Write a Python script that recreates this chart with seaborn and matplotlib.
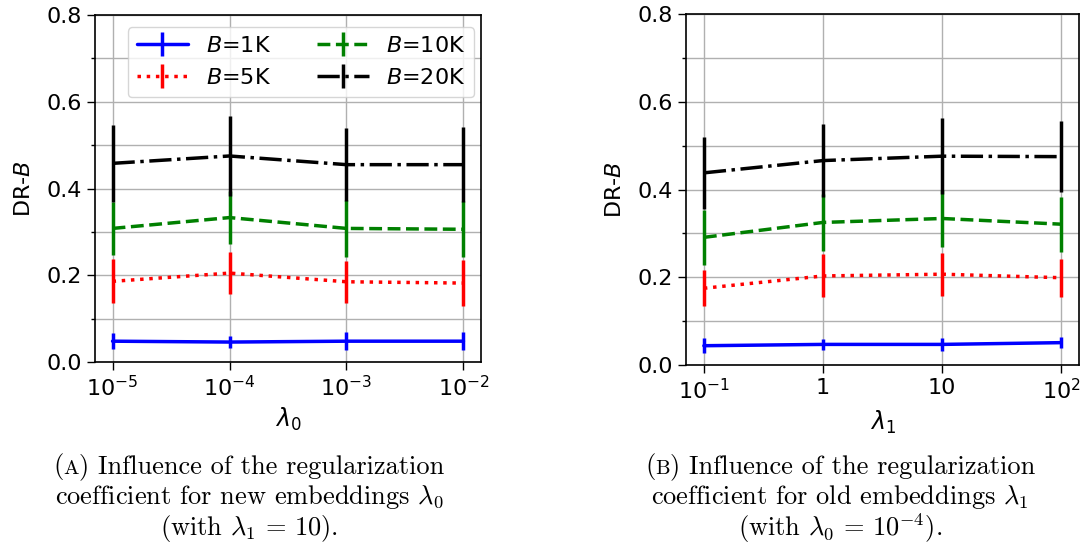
import numpy as np
import pandas as pd
import matplotlib
matplotlib.use("Agg")
import matplotlib.pyplot as plt
from matplotlib.lines import Line2D
from matplotlib.legend_handler import HandlerTuple
from matplotlib.ticker import MultipleLocator
from matplotlib.offsetbox import TextArea, HPacker, AnnotationBbox
import seaborn as sns

# ---- data -------------------------------------------------------------
batch_labels = ["$B$=1K", "$B$=5K", "$B$=10K", "$B$=20K"]

lambda0_ticks = [r"$10^{-5}$", r"$10^{-4}$", r"$10^{-3}$", r"$10^{-2}$"]
lambda1_ticks = [r"$10^{-1}$", "1", "10", r"$10^{2}$"]

# DR-B as a function of lambda_0 (lambda_1 = 10)
dr_l0_1k = [0.048, 0.046, 0.048, 0.048]
dr_l0_5k = [0.186, 0.205, 0.185, 0.182]
dr_l0_10k = [0.308, 0.333, 0.308, 0.306]
dr_l0_20k = [0.458, 0.475, 0.455, 0.455]
sd_l0_1k = [0.019, 0.014, 0.021, 0.021]
sd_l0_5k = [0.051, 0.048, 0.049, 0.053]
sd_l0_10k = [0.062, 0.061, 0.065, 0.065]
sd_l0_20k = [0.089, 0.093, 0.084, 0.086]

# DR-B as a function of lambda_1 (lambda_0 = 1e-4)
dr_l1_1k = [0.044, 0.047, 0.047, 0.051]
dr_l1_5k = [0.175, 0.203, 0.207, 0.199]
dr_l1_10k = [0.291, 0.325, 0.334, 0.321]
dr_l1_20k = [0.438, 0.466, 0.476, 0.475]
sd_l1_1k = [0.017, 0.013, 0.014, 0.013]
sd_l1_5k = [0.041, 0.049, 0.049, 0.043]
sd_l1_10k = [0.063, 0.065, 0.064, 0.063]
sd_l1_20k = [0.082, 0.084, 0.087, 0.081]

# ---- style ------------------------------------------------------------
sns.set_style("ticks")
plt.rcParams["font.family"] = ["DejaVu Sans"]
plt.rcParams["mathtext.fontset"] = "dejavusans"
for key in ["text.color", "axes.labelcolor", "xtick.color", "ytick.color",
            "xtick.labelcolor", "ytick.labelcolor"]:
    plt.rcParams[key] = "black"

colors = ["blue", "red", "green", "black"]
styles = ["-", ":", "--", "-."]
LW = 2.5
FS = 16

fig = plt.figure(figsize=(10.86, 5.48), dpi=100)
ax_a = fig.add_axes([0.0875, 0.3394, 0.3554, 0.6332])
ax_b = fig.add_axes([0.6317, 0.3339, 0.3619, 0.6405])


def draw_panel(ax, means, sds, ticks, xlabel):
    pos = np.arange(len(ticks))
    for label, m, s, c, ls in zip(batch_labels, means, sds, colors, styles):
        df = pd.DataFrame({"pos": pos, "dr": m})
        sns.lineplot(data=df, x="pos", y="dr", ax=ax, color=c, linestyle=ls,
                     lw=LW, errorbar=None, legend=False)
        ax.errorbar(pos, m, yerr=s, fmt="none", ecolor=c,
                    elinewidth=LW, capsize=0)
    ax.set_xticks(pos)
    ax.set_xticklabels(ticks)
    ax.set_xlim(-0.15, 3.15)
    ax.set_ylim(0.0, 0.8)
    ax.yaxis.set_major_locator(MultipleLocator(0.2))
    ax.yaxis.set_minor_locator(MultipleLocator(0.1))
    ax.grid(True, which="both", color="#b0b0b0", lw=1.0)
    ax.set_axisbelow(True)
    ax.tick_params(axis="both", which="major", labelsize=FS, length=6,
                   width=1.0, color="black")
    ax.tick_params(axis="y", which="minor", length=3, width=1.0,
                   color="black")
    for sp in ax.spines.values():
        sp.set_visible(True)
        sp.set_color("black")
        sp.set_linewidth(1.2)
    ax.set_xlabel(xlabel, fontsize=FS + 1)
    ax.set_ylabel("DR-$B$", fontsize=FS, labelpad=9)


draw_panel(ax_a, [dr_l0_1k, dr_l0_5k, dr_l0_10k, dr_l0_20k],
           [sd_l0_1k, sd_l0_5k, sd_l0_10k, sd_l0_20k],
           lambda0_ticks, r"$\lambda_0$")
draw_panel(ax_b, [dr_l1_1k, dr_l1_5k, dr_l1_10k, dr_l1_20k],
           [sd_l1_1k, sd_l1_5k, sd_l1_10k, sd_l1_20k],
           lambda1_ticks, r"$\lambda_1$")

# legend handles: line with a vertical error tick through it
handles = []
for c, ls in zip(colors, styles):
    ln = Line2D([], [], color=c, linestyle=ls, lw=LW)
    bar = Line2D([], [], color=c, marker="|", markersize=17,
                 markeredgewidth=LW, linestyle="none")
    handles.append((ln, bar))
ax_a.legend(handles, batch_labels,
            handler_map={tuple: HandlerTuple(ndivide=1)},
            ncol=2, loc="upper left", bbox_to_anchor=(0.085, 0.965),
            borderaxespad=0.0, fontsize=FS, handlelength=2.3,
            columnspacing=2.1, labelspacing=0.55, handletextpad=0.8,
            framealpha=0.8, edgecolor="0.8")

# ---- sub-captions -----------------------------------------------------
CAP_FS = 19
cap_props = dict(fontsize=CAP_FS, family="cmr10", math_fontfamily="cm",
                 color="black")
small_props = dict(cap_props, fontsize=CAP_FS * 0.78)


def caption_first_line(x, letter, rest, y):
    parts = [TextArea("(", textprops=cap_props),
             TextArea(letter, textprops=small_props),
             TextArea(") " + rest, textprops=cap_props)]
    box = HPacker(children=parts, align="baseline", pad=0, sep=0)
    ab = AnnotationBbox(box, (x, y), xycoords="figure fraction",
                        frameon=False, box_alignment=(0.5, 0.5), pad=0)
    fig.add_artist(ab)


cap_kw = dict(ha="center", va="center", **cap_props)
xa, xb = 249 / 1086, 840 / 1086
y1, y2, y3 = 1 - 467 / 548, 1 - 497 / 548, 1 - 528 / 548

caption_first_line(xa, "A", "Influence of the regularization", y1)
fig.text(xa, y2, r"coefficient for new embeddings $\lambda_0$", **cap_kw)
fig.text(xa, y3, r"(with $\lambda_1\,=\,10$).", **cap_kw)

caption_first_line(xb, "B", "Influence of the regularization", y1)
fig.text(xb, y2, r"coefficient for old embeddings $\lambda_1$", **cap_kw)
fig.text(xb, y3, r"(with $\lambda_0\,=\,10^{-4}$).", **cap_kw)

fig.savefig("out.png", dpi=100)
